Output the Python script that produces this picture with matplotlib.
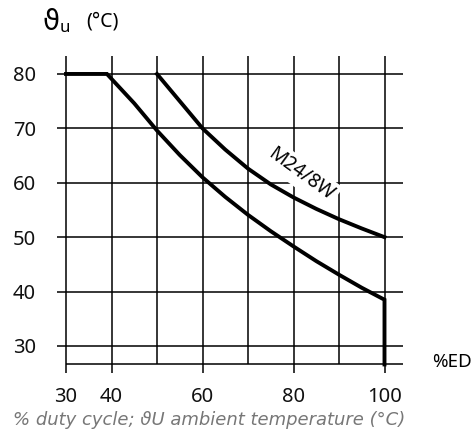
import matplotlib
matplotlib.use("Agg")
import matplotlib.pyplot as plt
import numpy as np

# duty cycle (%ED) and ambient temperature (deg C)
ed_low = [30, 39, 45, 50, 55, 60, 65, 70, 75, 80, 85, 90, 95, 100, 100]
temp_low = [80, 80, 74.6, 69.6, 65.1, 61.0, 57.4, 54.1, 51.1, 48.3, 45.6, 43.1, 40.7, 38.5, 26.6]

ed_m24 = [50, 55, 60, 65, 70, 75, 80, 85, 90, 95, 100]
temp_m24 = [80, 75.0, 70.0, 66.1, 62.6, 59.7, 57.3, 55.2, 53.3, 51.6, 50.0]

x_grid = [30, 40, 50, 60, 70, 80, 90, 100]
x_labels = [30, 40, 60, 80, 100]
y_grid = [30, 40, 50, 60, 70, 80]

tick_font = 'Noto Sans'

fig = plt.figure(figsize=(4.72, 4.37), dpi=100)
ax = fig.add_axes([56.9 / 472, 1 - 378.6 / 437, 345.8 / 472, (378.6 - 52.2) / 437])
ax.set_xlim(28, 104)
ax.set_ylim(24, 84)
for s in ax.spines.values():
    s.set_visible(False)

y_bot = 26.6
# grid
ax.hlines(y_grid, 28, 104, color='black', lw=1.1, zorder=1)
ax.hlines([y_bot], 30, 104, color='black', lw=1.1, zorder=1)
for x in x_grid:
    lo = 25 if x in x_labels else y_bot
    ax.vlines(x, lo, 83.3, color='black', lw=1.1, zorder=1)

# curves
ax.plot(ed_low, temp_low, color='black', lw=2.8, solid_joinstyle='miter', zorder=3)
ax.plot(ed_m24, temp_m24, color='black', lw=2.8, zorder=3)

ax.text(81.6, 61.6, "M24/8W", rotation=-36, ha='center', va='center', fontsize=14,
        family=tick_font, rotation_mode='anchor', zorder=2,
        bbox=dict(facecolor='white', edgecolor='none', pad=3))

ax.set_xticks(x_labels)
ax.set_yticks(y_grid)
ax.tick_params(length=0, labelsize=14.5, labelcolor='#111111')
ax.tick_params(axis='y', pad=15)
ax.tick_params(axis='x', pad=6)
for lab in ax.get_xticklabels() + ax.get_yticklabels():
    lab.set_family(tick_font)

fig.text(43 / 472, 1 - 30 / 437, "ϑ", fontsize=20, va='baseline', ha='left', family='DejaVu Sans')
fig.text(60 / 472, 1 - 32 / 437, "u", fontsize=12, va='baseline', ha='left', family=tick_font)
fig.text(86 / 472, 1 - 22 / 437, "(°C)", fontsize=14, va='center', ha='left', family=tick_font)
fig.text(432 / 472, 1 - 362 / 437, "%ED", fontsize=13.5, va='center', ha='left', family=tick_font)
fig.text(13 / 472, 1 - 420 / 437, "% duty cycle; ϑU ambient temperature (°C)", fontsize=13,
         style='italic', color='#777777', va='center', ha='left', family='DejaVu Sans')

fig.savefig("out.png", dpi=100)
